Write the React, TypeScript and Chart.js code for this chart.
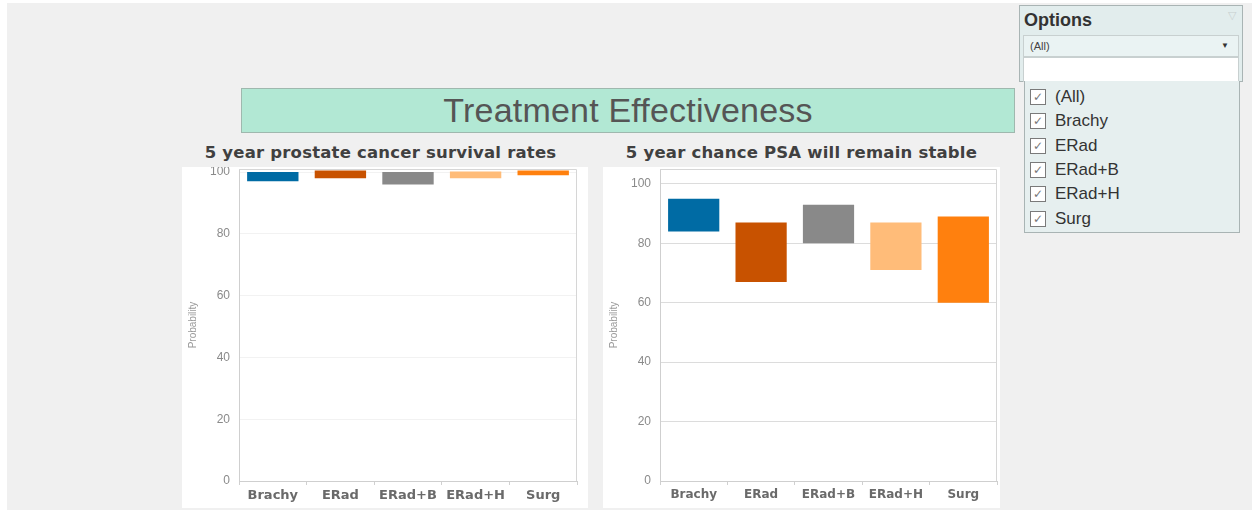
import React, { useEffect, useRef } from "react";
import { Chart, registerables } from "chart.js";

Chart.register(...registerables);

const categories = ["Brachy", "ERad", "ERad+B", "ERad+H", "Surg"];
const survivalLow = [97, 98, 96, 98, 99];
const survivalHigh = [100, 100.5, 100, 100.2, 100.5];
const psaLow = [84, 67, 80, 71, 60];
const psaHigh = [95, 87, 93, 87, 89];
const yTicks = [0, 20, 40, 60, 80, 100];
const barColors = ["#006BA4", "#C85200", "#898989", "#FFBC79", "#FF800E"];
const filterItems = ["(All)", "Brachy", "ERad", "ERad+B", "ERad+H", "Surg"];

const plotBorder = {
  id: "plotBorder",
  afterDraw(chart: any) {
    const { ctx, chartArea } = chart;
    ctx.save();
    ctx.strokeStyle = "#d6d6d6";
    ctx.lineWidth = 1;
    ctx.beginPath();
    ctx.moveTo(chartArea.left, chartArea.top + 0.5);
    ctx.lineTo(chartArea.right - 0.5, chartArea.top + 0.5);
    ctx.lineTo(chartArea.right - 0.5, chartArea.bottom);
    ctx.stroke();
    ctx.restore();
  },
};

function makeConfig(
  low: number[],
  high: number[],
  yMax: number,
  gridColor: string,
  rightPad: number,
  xFontSize: number
): any {
  return {
    type: "bar",
    data: {
      labels: categories,
      datasets: [
        {
          data: categories.map((_, i) => [low[i], high[i]]),
          backgroundColor: barColors,
          borderWidth: 0,
          barPercentage: 0.76,
          categoryPercentage: 1,
        },
      ],
    },
    options: {
      animation: false,
      responsive: false,
      maintainAspectRatio: false,
      layout: { padding: { top: 2, right: rightPad, left: 0, bottom: 0 } },
      plugins: { legend: { display: false }, tooltip: { enabled: false }, title: { display: false } },
      scales: {
        x: {
          afterFit: (s: any) => {
            s.height = 27;
            s.paddingLeft = 0;
            s.paddingRight = 0;
          },
          grid: {
            display: true,
            drawOnChartArea: false,
            offset: true,
            tickLength: 4,
            color: "#d0d0d0",
          },
          border: { display: true, color: "#cfcfcf" },
          ticks: {
            padding: 3,
            color: "#6a6a6a",
            font: { family: "DejaVu Sans", weight: "bold", size: xFontSize },
          },
        },
        y: {
          min: 0,
          max: yMax,
          afterFit: (s: any) => {
            s.width = 57;
            s.paddingTop = 0;
            s.paddingBottom = 0;
          },
          afterBuildTicks: (s: any) => {
            s.ticks = yTicks.map((v) => ({ value: v }));
          },
          grid: { color: gridColor, drawTicks: false },
          border: { display: true, color: "#cfcfcf" },
          ticks: {
            padding: 9,
            color: "#8a8a8a",
            font: { family: "Liberation Sans", size: 12 },
          },
          title: {
            display: true,
            text: "Probability",
            color: "#9a9a9a",
            font: { family: "Liberation Sans", size: 10 },
            padding: { top: 5, bottom: 4 },
          },
        },
      },
    },
    plugins: [plotBorder],
  };
}

function BarPanel(props: {
  left: number;
  width: number;
  low: number[];
  high: number[];
  yMax: number;
  gridColor: string;
  rightPad: number;
  xFontSize: number;
}) {
  const ref = useRef<HTMLCanvasElement | null>(null);
  useEffect(() => {
    if (!ref.current) return;
    const chart = new Chart(
      ref.current,
      makeConfig(props.low, props.high, props.yMax, props.gridColor, props.rightPad, props.xFontSize)
    );
    return () => chart.destroy();
  }, []);
  return (
    <div
      style={{
        position: "absolute",
        left: props.left,
        top: 167,
        width: props.width,
        height: 341,
        background: "#ffffff",
      }}
    >
      <canvas ref={ref} width={props.width} height={341} style={{ display: "block" }} />
    </div>
  );
}

const titleStyle: React.CSSProperties = {
  position: "absolute",
  top: 142,
  height: 22,
  lineHeight: "22px",
  textAlign: "center",
  fontFamily: "DejaVu Sans",
  fontWeight: "bold",
  fontSize: 16.5,
  letterSpacing: 0.2,
  color: "#404040",
  whiteSpace: "nowrap",
};

export default function App() {
  useEffect(() => {
    document.body.style.margin = "0";
  }, []);
  return (
    <div
      style={{
        position: "absolute",
        left: 0,
        top: 0,
        width: 1252,
        height: 510,
        background: "#ffffff",
        overflow: "hidden",
        fontFamily: "Liberation Sans, Arial, sans-serif",
      }}
    >
      <div
        style={{
          position: "absolute",
          left: 7,
          top: 3,
          width: 1245,
          height: 507,
          background: "#f0f0f0",
        }}
      />
      {/* header */}
      <div
        style={{
          position: "absolute",
          left: 241,
          top: 88,
          width: 772,
          height: 43,
          background: "#b2e8d4",
          border: "1px solid #9fb8ae",
          textAlign: "center",
          lineHeight: "43px",
          fontSize: 34,
          color: "#555555",
          fontFamily: "Liberation Sans",
          letterSpacing: 0.2,
        }}
      >
        Treatment Effectiveness
      </div>
      <div style={{ ...titleStyle, left: 182, width: 397 }}>5 year prostate cancer survival rates</div>
      <div style={{ ...titleStyle, left: 603, width: 397 }}>5 year chance PSA will remain stable</div>
      <BarPanel left={182} width={406} low={survivalLow} high={survivalHigh} yMax={101} gridColor="#f2f2f2" rightPad={11} xFontSize={13} />
      <BarPanel left={603} width={397} low={psaLow} high={psaHigh} yMax={105} gridColor="#dcdcdc" rightPad={3} xFontSize={12} />
      {/* options filter */}
      <div
        style={{
          position: "absolute",
          left: 1019,
          top: 5,
          width: 222,
          height: 75,
          background: "#e2eded",
          border: "1px solid #a9b4b4",
        }}
      >
        <div
          style={{
            position: "absolute",
            left: 4,
            top: 4,
            fontSize: 18,
            fontWeight: "bold",
            color: "#333",
            fontFamily: "Liberation Sans",
          }}
        >
          Options
        </div>
        <div style={{ position: "absolute", right: 6, top: 3, fontSize: 11, color: "#c8d0d0" }}>▽</div>
        <div
          style={{
            position: "absolute",
            left: 3,
            top: 29,
            width: 214,
            height: 20,
            background: "#eaf3f3",
            border: "1px solid #c8d0d0",
            fontSize: 11,
            color: "#444",
            lineHeight: "20px",
          }}
        >
          <span style={{ marginLeft: 6 }}>(All)</span>
          <span style={{ position: "absolute", right: 9, top: 0, fontSize: 8, color: "#333" }}>▼</span>
        </div>
        <div
          style={{
            position: "absolute",
            left: 3,
            top: 51,
            width: 214,
            height: 23,
            background: "#ffffff",
            border: "1px solid #c8d0d0",
          }}
        />
      </div>
      <div
        style={{
          position: "absolute",
          left: 1024,
          top: 81,
          width: 214,
          height: 151,
          background: "#e6efef",
          border: "1px solid #a9b4b4",
          borderTop: "none",
        }}
      >
        {filterItems.map((t, i) => (
          <div
            key={t}
            style={{
              position: "absolute",
              left: 5,
              top: 7 + i * 24.3,
              height: 18,
              display: "flex",
              alignItems: "center",
            }}
          >
            <span
              style={{
                display: "inline-block",
                width: 14,
                height: 14,
                border: "1px solid #7a7a7a",
                background: "#ffffff",
                fontSize: 12,
                lineHeight: "14px",
                textAlign: "center",
                color: "#777",
                fontFamily: "DejaVu Sans",
              }}
            >
              ✓
            </span>
            <span style={{ marginLeft: 9, fontSize: 17, color: "#333", fontFamily: "Liberation Sans" }}>{t}</span>
          </div>
        ))}
      </div>
    </div>
  );
}
